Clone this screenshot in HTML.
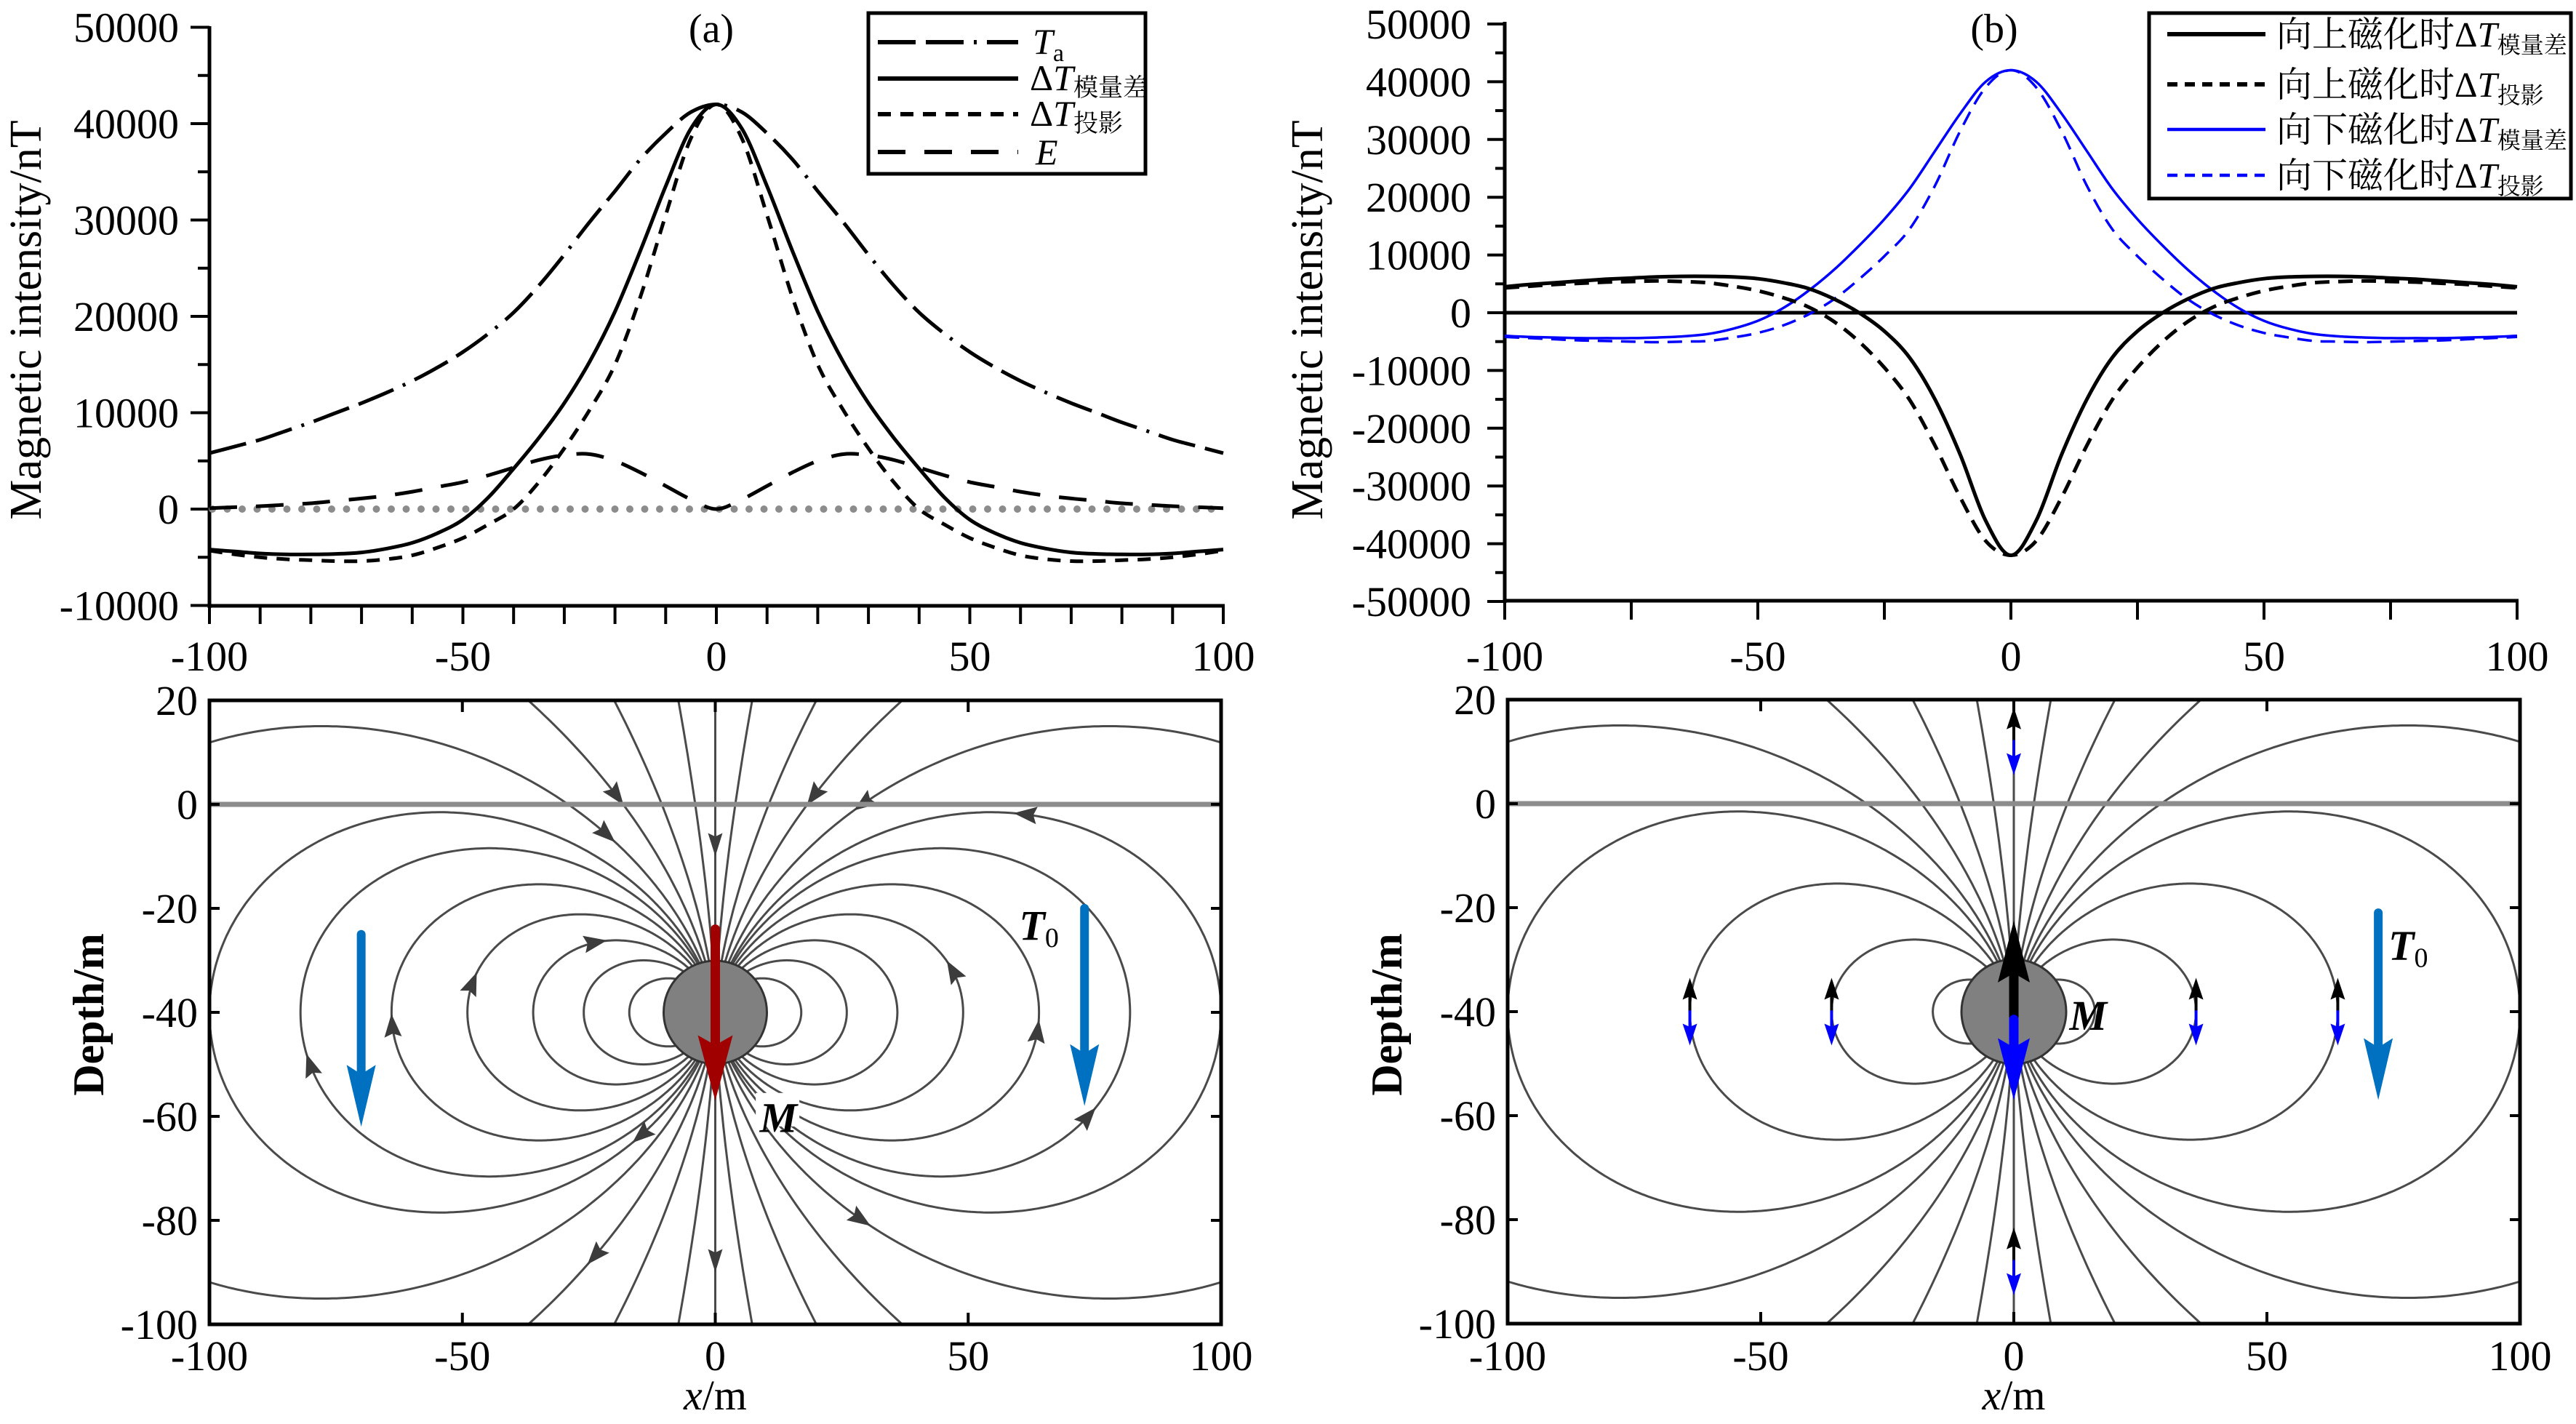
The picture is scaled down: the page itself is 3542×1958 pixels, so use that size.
<!DOCTYPE html>
<html><head><meta charset="utf-8"><style>
html,body{margin:0;padding:0;background:#fff;overflow:hidden;width:3542px;height:1958px}
svg{display:block}
text{font-family:"Liberation Serif","Noto Serif CJK SC","Noto Sans CJK SC",serif;fill:#000}
</style></head><body>
<svg id="fig" width="3542" height="1958" viewBox="0 0 3542 1958" xmlns="http://www.w3.org/2000/svg">
<defs>
<clipPath id="clipC"><rect x="288" y="963" width="1391" height="857"/></clipPath>
<clipPath id="clipD"><rect x="2073" y="963" width="1392" height="857"/></clipPath>
</defs>
<g id="root"></g>
</svg>
<script>
// ---------- data ----------
const xs = [-100,-95,-90,-85,-80,-75,-70,-65,-60,-55,-50,-45,-40,-35,-30,-25,-20,-15,-10,-5,0,5,10,15,20,25,30,35,40,45,50,55,60,65,70,75,80,85,90,95,100];
const taVals   = [5800,6500,7200,8100,9000,10000,11000,12100,13300,14700,16300,18200,20400,23200,26400,29800,33000,36300,39000,41200,42000,41200,39000,36300,33000,29800,26400,23200,20400,18200,16300,14700,13300,12100,11000,10000,9000,8100,7200,6500,5800];
const modVals  = [-4200,-4400,-4600,-4700,-4700,-4650,-4500,-4100,-3500,-2500,-1100,1200,4200,7400,11000,15300,20500,26800,33500,39500,42000,39500,33500,26800,20500,15300,11000,7400,4200,1200,-1100,-2500,-3500,-4100,-4500,-4650,-4700,-4700,-4600,-4400,-4200];
const projVals = [-4300,-4700,-5000,-5200,-5300,-5400,-5400,-5200,-4800,-4000,-3000,-1600,0,2800,6300,10300,15000,22000,30500,38500,42000,38500,30500,22000,15000,10300,6300,2800,0,-1600,-3000,-4000,-4800,-5200,-5400,-5400,-5300,-5200,-5000,-4700,-4300];
const eVals    = [100,200,300,450,600,850,1100,1400,1800,2300,2800,3500,4300,5100,5600,5700,5000,3800,2400,1000,0,1000,2400,3800,5000,5700,5600,5100,4300,3500,2800,2300,1800,1400,1100,850,600,450,300,200,100];
const upModVals  = [4500,4900,5200,5500,5800,6000,6200,6300,6300,6200,5900,5200,4200,2400,0,-3200,-7800,-15000,-24600,-36000,-42000,-36000,-24600,-15000,-7800,-3200,0,2400,4200,5200,5900,6200,6300,6300,6200,6000,5800,5500,5200,4900,4500];
const upProjVals = [4300,4600,4900,5100,5300,5400,5500,5400,5200,4600,3800,2600,1000,-1500,-5000,-9500,-15100,-23000,-32000,-39500,-42000,-39500,-32000,-23000,-15100,-9500,-5000,-1500,1000,2600,3800,4600,5200,5400,5500,5400,5300,5100,4900,4600,4300];
const dnModVals  = [-4000,-4200,-4300,-4400,-4400,-4400,-4300,-4100,-3700,-2800,-1400,800,3800,7400,11600,16200,21500,28000,34500,40000,42000,40000,34500,28000,21500,16200,11600,7400,3800,800,-1400,-2800,-3700,-4100,-4300,-4400,-4400,-4400,-4300,-4200,-4000];
const dnProjVals = [-4200,-4400,-4600,-4800,-4900,-5000,-5100,-5000,-4900,-4300,-3500,-2200,-300,2300,5800,9800,14500,22000,31500,39000,42000,39000,31500,22000,14500,9800,5800,2300,-300,-2200,-3500,-4300,-4900,-5000,-5100,-5000,-4900,-4800,-4600,-4400,-4200];
const xTicks = [-100,-50,0,50,100];
const yTicksA = [50000,40000,30000,20000,10000,0,-10000];
const yTicksB = [50000,40000,30000,20000,10000,0,-10000,-20000,-30000,-40000,-50000];
const depthTicks = [20,0,-20,-40,-60,-80,-100];
const fieldLinesA = [17,26,36,49,64,82,100,143,256,633,4140];
const fieldLinesB = [16,36,64,100,143,256,633,4140];
// arrowheads on field lines: [L, theta(deg), side]
const arrowsA = [[36,60,-1],[49,83,-1],[64,92,-1],[82,97,-1],[100,148,-1],[143,32,-1],[256,25,-1],[256,25,1],[143,36,1],[100,58,1],[49,80,1],[64,93,1],[82,105,1],[143,144,1],[256,153,-1],[633,160,1]];
const smallArrowsB = [[0,12],[0,-88],[-64,-40],[-36,-40],[36,-40],[64,-40]];

// ---------- scales ----------
const xA = v => 288 + (v + 100) * 6.97;
const yA = v => 700 - v * 0.01325;
const xB = v => 2069 + (v + 100) * 6.96;
const yB = v => 430 - v * 0.00794;
const xC = v => 288 + (v + 100) * 6.955;
const yC = v => 1106 - v * 7.15;
const xD = v => 2073 + (v + 100) * 6.96;
const yD = v => 1105 - v * 7.15;

const NS = 'http://www.w3.org/2000/svg';
const root = document.getElementById('root');
function mk(tag, attrs, parent) {
  const e = document.createElementNS(NS, tag);
  for (const k in attrs) e.setAttribute(k, attrs[k]);
  (parent || root).appendChild(e);
  return e;
}
function txt(x, y, s, size, anchor, parent, extra) {
  const t = mk('text', Object.assign({x: x, y: y, 'font-size': size, 'text-anchor': anchor || 'middle'}, extra || {}), parent);
  t.textContent = s;
  return t;
}
function smooth(pts) {
  let d = 'M' + pts[0][0].toFixed(1) + ',' + pts[0][1].toFixed(1);
  for (let i = 0; i < pts.length - 1; i++) {
    const p0 = pts[Math.max(0, i - 1)], p1 = pts[i], p2 = pts[i + 1], p3 = pts[Math.min(pts.length - 1, i + 2)];
    const c1x = p1[0] + (p2[0] - p0[0]) / 6, c1y = p1[1] + (p2[1] - p0[1]) / 6;
    const c2x = p2[0] - (p3[0] - p1[0]) / 6, c2y = p2[1] - (p3[1] - p1[1]) / 6;
    d += 'C' + c1x.toFixed(1) + ',' + c1y.toFixed(1) + ' ' + c2x.toFixed(1) + ',' + c2y.toFixed(1) + ' ' + p2[0].toFixed(1) + ',' + p2[1].toFixed(1);
  }
  return d;
}
function series(vals, fx, fy, stroke, width, dash, name) {
  const pts = xs.map((x, i) => [fx(x), fy(vals[i])]);
  const p = mk('path', {d: smooth(pts), fill: 'none', stroke: stroke, 'stroke-width': width});
  if (dash) p.setAttribute('stroke-dasharray', dash);
  
  
  return p;
}

// ---------- panel (a) top ----------
const gA = mk('g', {});


mk('line', {x1: 288, y1: 36, x2: 288, y2: 836, stroke: '#000', 'stroke-width': 5}, gA);
mk('line', {x1: 286, y1: 833, x2: 1684, y2: 833, stroke: '#000', 'stroke-width': 5}, gA);
for (let v = -10000; v <= 50000; v += 5000) {
  mk('line', {x1: 288, y1: yA(v), x2: v % 10000 === 0 ? 262 : 272, y2: yA(v), stroke: '#000', 'stroke-width': 4}, gA);
}
for (let v = -100; v <= 100; v += 10) {
  mk('line', {x1: xA(v), y1: 833, x2: xA(v), y2: 858, stroke: '#000', 'stroke-width': 4}, gA);
}
yTicksA.forEach(v => txt(246, yA(v) + 20, String(v), 58, 'end', gA));
xTicks.forEach(v => txt(xA(v), 922, String(v), 58, 'middle', gA));
txt(0, 0, 'Magnetic intensity/nT', 62, 'middle', gA, {transform: 'translate(56,440) rotate(-90)'});
txt(978, 58, '(a)', 56, 'middle', gA);
// gray dotted zero
mk('line', {x1: 292, y1: yA(0), x2: 1680, y2: yA(0), stroke: '#8c8c8c', 'stroke-width': 10, 'stroke-linecap': 'round', 'stroke-dasharray': '0 20.5'}, gA);
gA.appendChild(series(taVals, xA, yA, '#000', 5, '52 14 52 14 4 14', 'series-ta'));
gA.appendChild(series(modVals, xA, yA, '#000', 5, null, 'series-dt-modulus'));
gA.appendChild(series(projVals, xA, yA, '#000', 5, '18 13', 'series-dt-projection'));
gA.appendChild(series(eVals, xA, yA, '#000', 5, '38 26', 'series-e'));
// legend a
const lgA = mk('g', {});


mk('rect', {x: 1194, y: 18, width: 381, height: 221, fill: '#fff', stroke: '#000', 'stroke-width': 5}, lgA);
const legA = [['52 14 52 14 4 14', 58], [null, 108], ['18 13', 157], ['38 26', 209]];
legA.forEach(l => {
  const ln = mk('line', {x1: 1207, y1: l[1], x2: 1400, y2: l[1], stroke: '#000', 'stroke-width': 6}, lgA);
  if (l[0]) ln.setAttribute('stroke-dasharray', l[0]);
});
let t = txt(1420, 74, '', 50, 'start', lgA);
t.innerHTML = '<tspan font-style="italic">T</tspan><tspan font-size="34" dy="10">a</tspan>';
t = txt(1416, 124, '', 50, 'start', lgA);
t.innerHTML = 'Δ<tspan font-style="italic">T</tspan><tspan font-size="34" dy="8">模量差</tspan>';
t = txt(1416, 173, '', 50, 'start', lgA);
t.innerHTML = 'Δ<tspan font-style="italic">T</tspan><tspan font-size="34" dy="8">投影</tspan>';
t = txt(1424, 226, '', 50, 'start', lgA);
t.innerHTML = '<tspan font-style="italic">E</tspan>';

// ---------- panel (b) top ----------
const gB = mk('g', {});


mk('line', {x1: 2069, y1: 30, x2: 2069, y2: 829, stroke: '#000', 'stroke-width': 5}, gB);
mk('line', {x1: 2067, y1: 826, x2: 3463, y2: 826, stroke: '#000', 'stroke-width': 5}, gB);
for (let v = -50000; v <= 50000; v += 5000) {
  mk('line', {x1: 2069, y1: yB(v), x2: v % 10000 === 0 ? 2045 : 2056, y2: yB(v), stroke: '#000', 'stroke-width': 4}, gB);
}
for (let v = -100; v <= 100; v += 25) {
  mk('line', {x1: xB(v), y1: 826, x2: xB(v), y2: 852, stroke: '#000', 'stroke-width': 4}, gB);
}
yTicksB.forEach(v => txt(2023, yB(v) + 20, String(v), 58, 'end', gB));
xTicks.forEach(v => txt(xB(v), 922, String(v), 58, 'middle', gB));
txt(0, 0, 'Magnetic intensity/nT', 62, 'middle', gB, {transform: 'translate(1818,440) rotate(-90)'});
txt(2742, 58, '(b)', 56, 'middle', gB);
mk('line', {x1: 2069, y1: yB(0), x2: 3461, y2: yB(0), stroke: '#000', 'stroke-width': 5}, gB);
gB.appendChild(series(dnModVals, xB, yB, '#0000ff', 3.5, null, 'series-down-modulus'));
gB.appendChild(series(dnProjVals, xB, yB, '#0000ff', 3.5, '20 12', 'series-down-projection'));
gB.appendChild(series(upModVals, xB, yB, '#000', 5, null, 'series-up-modulus'));
gB.appendChild(series(upProjVals, xB, yB, '#000', 5, '20 12', 'series-up-projection'));
const lgB = mk('g', {});


mk('rect', {x: 2955, y: 18, width: 580, height: 255, fill: '#fff', stroke: '#000', 'stroke-width': 5}, lgB);
const legB = [['#000', null, 47, '向上磁化时', '模量差', 5], ['#000', '14 10', 116, '向上磁化时', '投影', 5], ['#0000ff', null, 178, '向下磁化时', '模量差', 3.5], ['#0000ff', '14 10', 241, '向下磁化时', '投影', 3.5]];
legB.forEach(l => {
  const ln = mk('line', {x1: 2980, y1: l[2], x2: 3115, y2: l[2], stroke: l[0], 'stroke-width': l[5] + 1}, lgB);
  if (l[1]) ln.setAttribute('stroke-dasharray', l[1]);
  const tt = txt(3130, l[2] + 17, '', 49, 'start', lgB);
  tt.innerHTML = l[3] + 'Δ<tspan font-style="italic">T</tspan><tspan font-size="32" dy="9">' + l[4] + '</tspan>';
});

// ---------- field lines ----------
function fieldPoint(L, th, side) {
  const r = L * Math.sin(th) * Math.sin(th);
  return [side * r * Math.sin(th), -40 + r * Math.cos(th)];
}
function drawField(g, lines, fx, fy) {
  lines.forEach(L => {
    [-1, 1].forEach(side => {
      const pts = [];
      for (let i = 1; i < 600; i++) {
        const th = Math.PI * i / 600;
        const p = fieldPoint(L, th, side);
        if (Math.abs(p[0]) > 130 || p[1] > 60 || p[1] < -140) { if (pts.length) pts.push(null); continue; }
        pts.push([fx(p[0]), fy(p[1])]);
      }
      let d = '', pen = false;
      pts.forEach(p => { if (!p) { pen = false; return; } d += (pen ? 'L' : 'M') + p[0].toFixed(1) + ',' + p[1].toFixed(1); pen = true; });
      const path = mk('path', {d: d, fill: 'none', stroke: '#4a4a4a', 'stroke-width': 3}, g);
      
      
    });
  });
  mk('line', {x1: fx(0), y1: fy(20), x2: fx(0), y2: fy(-100), stroke: '#4a4a4a', 'stroke-width': 3}, g);
}
function head(g, x, y, ang, len, wid, color, name) {
  const c = Math.cos(ang), s = Math.sin(ang);
  const bx = x - c * len, by = y - s * len;
  const p = mk('polygon', {points: x + ',' + y + ' ' + (bx - s * wid / 2) + ',' + (by + c * wid / 2) + ' ' + (bx + c * len * 0.15) + ',' + (by + s * len * 0.15) + ' ' + (bx + s * wid / 2) + ',' + (by - c * wid / 2), fill: color}, g);
  
  
}
function bigArrow(g, x, y1, y2, color, w, hl, hw, name) {
  const dir = y2 > y1 ? 1 : -1;
  const ln = mk('line', {x1: x, y1: y1, x2: x, y2: y2 - dir * hl * 0.6, stroke: color, 'stroke-width': w, 'stroke-linecap': 'round'}, g);
  
  
  head(g, x, y2, dir > 0 ? Math.PI / 2 : -Math.PI / 2, hl, hw, color, name + '-head');
}
function frame(g, fx, fy) {
  mk('line', {x1: fx(-100), y1: fy(0), x2: fx(100), y2: fy(0), stroke: '#8c8c8c', 'stroke-width': 7}, g);
  mk('rect', {x: fx(-100), y: fy(20), width: fx(100) - fx(-100), height: fy(-100) - fy(20), fill: 'none', stroke: '#000', 'stroke-width': 5}, g);
  for (let v = -100; v <= 100; v += 50) {
    mk('line', {x1: fx(v), y1: fy(20), x2: fx(v), y2: fy(20) + 16, stroke: '#000', 'stroke-width': 4}, g);
    mk('line', {x1: fx(v), y1: fy(-100), x2: fx(v), y2: fy(-100) - 16, stroke: '#000', 'stroke-width': 4}, g);
  }
  for (let v = -100; v <= 20; v += 20) {
    mk('line', {x1: fx(-100), y1: fy(v), x2: fx(-100) + 14, y2: fy(v), stroke: '#000', 'stroke-width': 4}, g);
    mk('line', {x1: fx(100), y1: fy(v), x2: fx(100) - 14, y2: fy(v), stroke: '#000', 'stroke-width': 4}, g);
  }
  depthTicks.forEach(v => txt(fx(-100) - 16, fy(v) + 20, String(v), 58, 'end', g));
  xTicks.forEach(v => txt(fx(v), 1884, String(v), 58, 'middle', g));
  const xl = txt(fx(0), 1938, '', 58, 'middle', g);
  xl.innerHTML = '<tspan font-style="italic">x</tspan>/m';
  txt(0, 0, 'Depth/m', 60, 'middle', g, {transform: 'translate(' + (fx(-100) - 146) + ',1395) rotate(-90)', 'font-weight': 'bold'});
}

// panel a bottom
const gC = mk('g', {});


const cC = mk('g', {'clip-path': 'url(#clipC)'}, gC);
drawField(cC, fieldLinesA, xC, yC);
arrowsA.forEach(a => {
  const th = a[1] * Math.PI / 180, side = a[2];
  const p = fieldPoint(a[0], th, side), q = fieldPoint(a[0], th - 0.02, side);
  const ang = Math.atan2(yC(q[1]) - yC(p[1]), xC(q[0]) - xC(p[0]));
  head(cC, xC(p[0]) + Math.cos(ang) * 14, yC(p[1]) + Math.sin(ang) * 14, ang, 32, 24, '#3c3c3c', 'field-arrowhead');
});
head(cC, xC(0), yC(-10), Math.PI / 2, 32, 20, '#3c3c3c', 'axis-arrowhead');
head(cC, xC(0), yC(-90), Math.PI / 2, 32, 20, '#3c3c3c', 'axis-arrowhead');
frame(gC, xC, yC);
let sph = mk('circle', {cx: xC(0), cy: yC(-40), r: 71, fill: '#808080', stroke: '#333', 'stroke-width': 3}, gC);


bigArrow(gC, xC(0), yC(-24), yC(-57), '#a00000', 13, 90, 48, 'magnetization-arrow');
bigArrow(gC, xC(-70), yC(-25), yC(-62), '#0070c0', 12, 85, 40, 'geomagnetic-arrow-left');
bigArrow(gC, xC(73), yC(-20), yC(-58), '#0070c0', 12, 85, 40, 'geomagnetic-arrow-right');
mk('rect', {x: xC(8), y: yC(-55.5), width: 60, height: 46, fill: '#fff'}, gC);
txt(xC(12.5), yC(-63), 'M', 58, 'middle', gC, {'font-style': 'italic', 'font-weight': 'bold'});
t = txt(xC(64), yC(-26), '', 58, 'middle', gC, {'font-weight': 'bold'});
t.innerHTML = '<tspan font-style="italic">T</tspan><tspan font-size="38" dy="10" font-weight="normal">0</tspan>';

// panel b bottom
const gD = mk('g', {});


const cD = mk('g', {'clip-path': 'url(#clipD)'}, gD);
drawField(cD, fieldLinesB, xD, yD);
frame(gD, xD, yD);
sph = mk('circle', {cx: xD(0), cy: yD(-40), r: 72, fill: '#808080', stroke: '#333', 'stroke-width': 3}, gD);


bigArrow(gD, xD(0), yD(-41), yD(-22.5), '#000', 13, 85, 44, 'up-magnetization-arrow');
bigArrow(gD, xD(0), yD(-41.5), yD(-57), '#0000ff', 13, 85, 44, 'down-magnetization-arrow');
smallArrowsB.forEach(a => {
  bigArrow(gD, xD(a[0]), yD(a[1]), yD(a[1] + 6.5), '#000', 4, 30, 20, 'small-up-arrow');
  bigArrow(gD, xD(a[0]), yD(a[1]), yD(a[1] - 6.5), '#0000ff', 4, 30, 20, 'small-down-arrow');
});
bigArrow(gD, xD(72), yD(-21), yD(-57), '#0070c0', 12, 85, 40, 'geomagnetic-arrow');
txt(xD(11), yD(-43.5), 'M', 58, 'start', gD, {'font-style': 'italic', 'font-weight': 'bold'});
t = txt(xD(74), yD(-30), '', 58, 'start', gD, {'font-weight': 'bold'});
t.innerHTML = '<tspan font-style="italic">T</tspan><tspan font-size="38" dy="10" font-weight="normal">0</tspan>';
</script>
</body></html>
